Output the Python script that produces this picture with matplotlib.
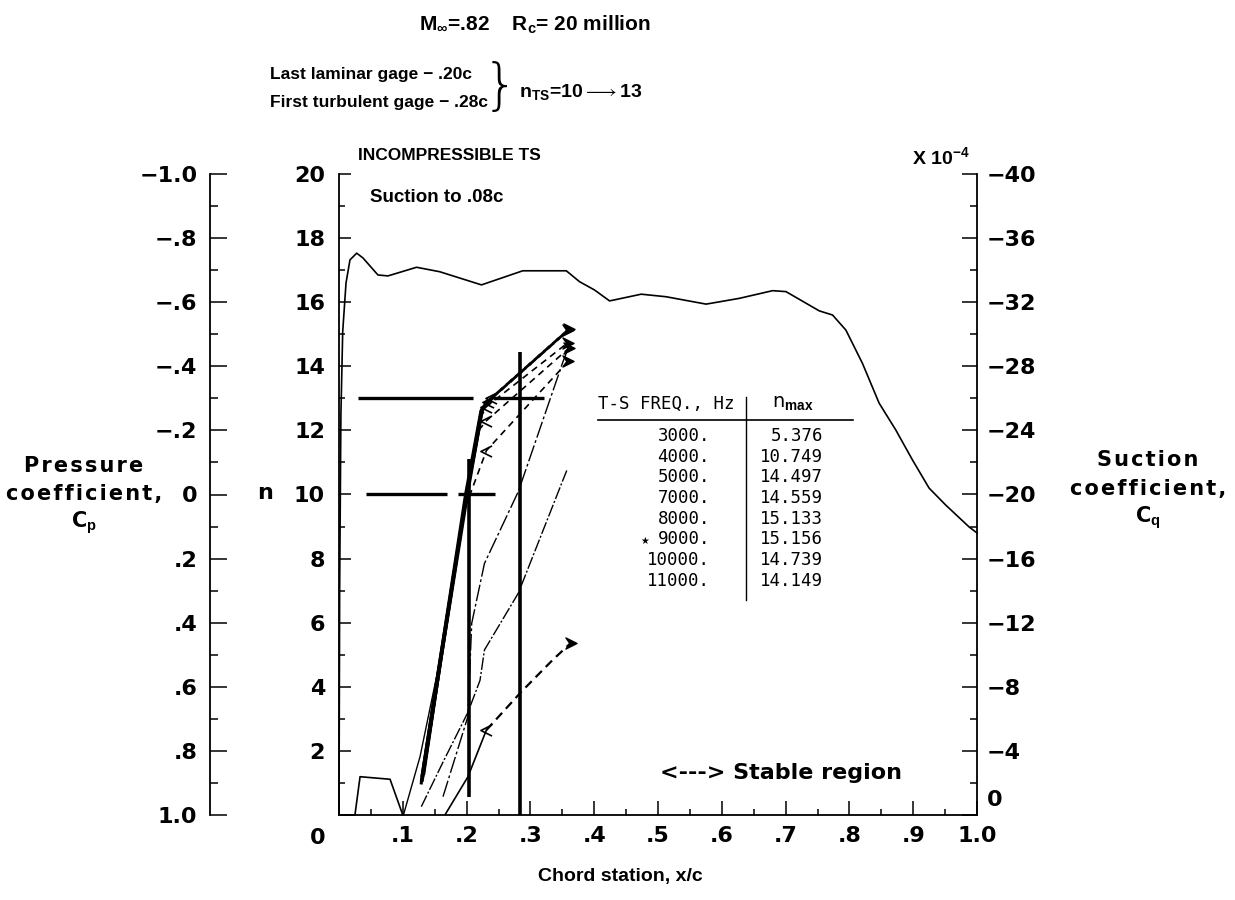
import matplotlib
matplotlib.use("Agg")
import matplotlib.pyplot as plt
from matplotlib.path import Path
from matplotlib.lines import Line2D
import numpy as np

plt.rcParams['font.family'] = ['DejaVu Sans']
plt.rcParams['mathtext.fontset'] = 'custom'
plt.rcParams['mathtext.rm'] = 'Liberation Sans:bold'
plt.rcParams['mathtext.it'] = 'Liberation Sans:bold'
plt.rcParams['mathtext.bf'] = 'Liberation Sans:bold'
plt.rcParams['mathtext.default'] = 'rm'

# ---------------- data ----------------
# pressure distribution (Cp vs x/c)
cp_x = [0.0, 0.001, 0.003, 0.0058, 0.011, 0.0172, 0.0277, 0.0376, 0.061, 0.0767,
        0.1216, 0.158, 0.2233, 0.288, 0.3563, 0.377, 0.4006, 0.4241, 0.4737, 0.5128,
        0.5754, 0.6275, 0.6797, 0.7006, 0.7527, 0.7736, 0.7945, 0.8205, 0.8466,
        0.8728, 0.8988, 0.9249, 0.951, 0.9875, 1.0]
cp_val = [1.0, 0.30, -0.25, -0.508, -0.66, -0.732, -0.753, -0.738, -0.685, -0.682,
          -0.709, -0.695, -0.654, -0.698, -0.698, -0.664, -0.638, -0.604, -0.625, -0.617,
          -0.594, -0.612, -0.636, -0.633, -0.573, -0.560, -0.513, -0.409, -0.285,
          -0.201, -0.108, -0.020, 0.033, 0.101, 0.12]

# suction distribution (Cq x 1e4)
cq_x = [0.0, 0.025, 0.033, 0.080, 0.100]
cq_val = [0.0, 0.0, -2.39, -2.23, 0.0]

# N-factor curves: amplified part (solid) and stable part (dashed)
n3000_sx = [0.166, 0.202, 0.231]
n3000_sy = [0.0, 1.19, 2.65]
n3000_dx = [0.231, 0.286, 0.335, 0.364]
n3000_dy = [2.65, 3.85, 4.84, 5.38]

n4000_x = [0.129, 0.163, 0.202, 0.221, 0.228, 0.281, 0.351, 0.357]
n4000_y = [0.26, 1.65, 3.2, 4.2, 5.15, 6.92, 10.45, 10.75]

n5000_x = [0.163, 0.202, 0.208, 0.228, 0.281, 0.351, 0.358]
n5000_y = [0.57, 3.07, 5.98, 7.85, 10.09, 14.14, 14.5]

n7000_sx = [0.133, 0.160, 0.200, 0.219]
n7000_sy = [1.3, 4.9, 10.0, 12.0]
n7000_dx = [0.219, 0.231, 0.360]
n7000_dy = [12.0, 12.3, 14.56]

n8000_sx = [0.130, 0.158, 0.199, 0.223, 0.233]
n8000_sy = [1.1, 4.7, 10.0, 12.6, 12.9]
n8000_dx = [0.233, 0.359]
n8000_dy = [12.9, 15.13]

n9000_sx = [0.131, 0.159, 0.201, 0.224, 0.239]
n9000_sy = [1.25, 4.84, 10.04, 12.64, 13.0]
n9000_dx = [0.239, 0.361]
n9000_dy = [13.0, 15.16]

n10000_sx = [0.129, 0.157, 0.199, 0.222]
n10000_sy = [1.0, 4.6, 9.9, 12.4]
n10000_dx = [0.222, 0.231, 0.359]
n10000_dy = [12.4, 12.74, 14.74]

n11000_sx = [0.101, 0.127, 0.160, 0.198]
n11000_sy = [0.0, 1.82, 5.0, 9.6]
n11000_dx = [0.198, 0.231, 0.359]
n11000_dy = [9.6, 11.37, 14.15]

# gage lines
gage_x = [0.204, 0.283]
gage_lo = [0.57, 0.0]
gage_hi = [11.1, 14.45]
hbar_n = [13.0, 13.0, 10.0, 10.0]
hbar_x0 = [0.030, 0.241, 0.043, 0.187]
hbar_x1 = [0.210, 0.322, 0.169, 0.244]

# table
freq_labels = ["3000.", "4000.", "5000.", "7000.", "8000.", "9000.", "10000.", "11000."]
nmax_labels = ["5.376", "10.749", "14.497", "14.559", "15.133", "15.156", "14.739", "14.149"]

# tick labels
x_ticks = [0.0, 0.1, 0.2, 0.3, 0.4, 0.5, 0.6, 0.7, 0.8, 0.9, 1.0]
x_ticklabels = ["", ".1", ".2", ".3", ".4", ".5", ".6", ".7", ".8", ".9", "1.0"]
n_ticks = [0, 2, 4, 6, 8, 10, 12, 14, 16, 18, 20]
n_ticklabels = ["", "2", "4", "6", "8", "10", "12", "14", "16", "18", "20"]
cp_ticks = [-1.0, -0.8, -0.6, -0.4, -0.2, 0.0, 0.2, 0.4, 0.6, 0.8, 1.0]
cp_ticklabels = ["\u22121.0", "\u2212.8", "\u2212.6", "\u2212.4", "\u2212.2", "0",
                 ".2", ".4", ".6", ".8", "1.0"]
cq_ticks = [0, -4, -8, -12, -16, -20, -24, -28, -32, -36, -40]
cq_ticklabels = ["", "\u22124", "\u22128", "\u221212", "\u221216", "\u221220",
                 "\u221224", "\u221228", "\u221232", "\u221236", "\u221240"]

# ---------------- figure ----------------
W, H = 1235, 900
fig = plt.figure(figsize=(W / 100, H / 100), dpi=100)

def fx(px):
    return px / W

def fy(py):
    return 1 - py / H

L, R, T, B = 339, 977, 174, 815
ax = fig.add_axes([fx(L), fy(B), (R - L) / W, (B - T) / H])
ax.set_xlim(0, 1)
ax.set_ylim(0, 20)
ax.patch.set_visible(False)
for s in ["top", "right"]:
    ax.spines[s].set_visible(False)
for s in ["left", "bottom"]:
    ax.spines[s].set_linewidth(1.3)

BOLD = dict(family="DejaVu Sans", weight="bold", size=16)
LAB = dict(family="DejaVu Sans", weight="bold", size=15)

ax.set_xticks(x_ticks)
ax.set_xticklabels(x_ticklabels, fontdict=BOLD)
ax.set_xticks(np.arange(0.05, 1.0, 0.1), minor=True)
ax.set_yticks(n_ticks)
ax.set_yticklabels(n_ticklabels, fontdict=BOLD)
ax.set_yticks(np.arange(1, 20, 2), minor=True)
ax.tick_params(axis="x", which="major", direction="in", length=10, width=1.1, pad=8)
ax.tick_params(axis="x", which="minor", direction="in", length=4.5, width=1.1)
ax.tick_params(axis="y", which="major", direction="in", length=8.5, width=1.1, pad=10)
ax.tick_params(axis="y", which="minor", direction="in", length=4.5, width=1.1)

# Cq axis (right)
axq = ax.twinx()
axq.set_ylim(0, -40)
for s in ["top", "left", "bottom"]:
    axq.spines[s].set_visible(False)
axq.spines["right"].set_linewidth(1.3)
axq.set_yticks(cq_ticks)
axq.set_yticklabels(cq_ticklabels, fontdict=BOLD)
axq.set_yticks(np.arange(-2, -40, -4), minor=True)
axq.tick_params(axis="y", which="major", direction="in", length=10.5, width=1.1, pad=7)
axq.tick_params(axis="y", which="minor", direction="in", length=5, width=1.1)

# Cp axis (far left)
axp = ax.twinx()
axp.set_ylim(1.0, -1.0)
for s in ["top", "right", "bottom"]:
    axp.spines[s].set_visible(False)
axp.spines["left"].set_visible(True)
axp.spines["left"].set_position(("axes", (210 - L) / (R - L)))
axp.spines["left"].set_linewidth(1.3)
axp.yaxis.tick_left()
axp.set_yticks(cp_ticks)
axp.set_yticklabels(cp_ticklabels, fontdict=BOLD)
axp.set_yticks(np.arange(-0.9, 1.0, 0.2), minor=True)
axp.tick_params(axis="y", which="major", direction="in", length=12, width=1.1, pad=9)
axp.tick_params(axis="y", which="minor", direction="in", length=5.5, width=1.1)

# ---------------- curves ----------------
axp.plot(cp_x, cp_val, color="black", lw=1.2, clip_on=False)
axq.plot(cq_x, cq_val, color="black", lw=1.2, clip_on=False)

chev = Path([(1, 1), (-1, 0), (1, -1)], [Path.MOVETO, Path.LINETO, Path.LINETO])
head = Path([(-1, 1), (1, 0), (-1, -1), (-0.3, 0), (-1, 1)],
            [Path.MOVETO, Path.LINETO, Path.LINETO, Path.LINETO, Path.CLOSEPOLY])

def stable(x, y, lw=1.3, dash=(4, 2.5), mk=0):
    ax.plot(x, y, color="black", lw=lw, dashes=dash)
    ax.plot([x[mk]], [y[mk]], marker=chev, ms=8, mfc="none", mec="black", mew=1.2)
    ax.plot([x[-1]], [y[-1]], marker=head, ms=8, color="black")

# 3000 Hz
ax.plot(n3000_sx, n3000_sy, color="black", lw=1.2)
stable(n3000_dx, n3000_dy, lw=1.6, dash=(4, 2.5))
# 4000 Hz
ax.plot(n4000_x, n4000_y, color="black", lw=1.0, dashes=(9, 1.5, 1.5, 1.5))
# 5000 Hz
ax.plot(n5000_x, n5000_y, color="black", lw=1.0, dashes=(12, 2, 2, 2))
# 7000 Hz
ax.plot(n7000_sx, n7000_sy, color="black", lw=2.2)
stable(n7000_dx, n7000_dy, lw=1.2, dash=(4, 3), mk=1)
# 8000 Hz
ax.plot(n8000_sx, n8000_sy, color="black", lw=2.8)
stable(n8000_dx, n8000_dy, lw=2.0, dash=(3, 1.5))
# 9000 Hz
ax.plot(n9000_sx, n9000_sy, color="black", lw=2.8)
stable(n9000_dx, n9000_dy, lw=2.0, dash=(3, 1.5))
# 10000 Hz
ax.plot(n10000_sx, n10000_sy, color="black", lw=2.2)
stable(n10000_dx, n10000_dy, lw=1.2, dash=(4, 3), mk=1)
# 11000 Hz
ax.plot(n11000_sx, n11000_sy, color="black", lw=1.0)
stable(n11000_dx, n11000_dy, lw=1.2, dash=(4, 3), mk=1)

# gage lines and n bars
for gx, lo, hi in zip(gage_x, gage_lo, gage_hi):
    ax.plot([gx, gx], [lo, hi], color="black", lw=2.6, solid_capstyle="butt")
for n_, x0, x1 in zip(hbar_n, hbar_x0, hbar_x1):
    ax.plot([x0, x1], [n_, n_], color="black", lw=2.4, solid_capstyle="butt")

# ---------------- texts ----------------
def ft(px, py, s, **kw):
    fig.text(fx(px), fy(py), s, **kw)

def spaced(s):
    return "\u200a".join(s)

LIB = dict(family="Liberation Sans", weight="bold")
ft(535, 25, r"M$_{\infty}$=.82    R$_{c}$= 20 million", ha="center", va="center", size=15, **LIB)
ft(270, 75, "Last laminar gage \u2212 .20c", ha="left", va="center", size=12.5, **LIB)
ft(270, 103, "First turbulent gage \u2212 .28c", ha="left", va="center", size=12.5, **LIB)
ft(500, 88, "}", ha="center", va="center", size=40, family="DejaVu Sans", weight="ultralight")
ft(519, 92, r"n$_{TS}$=10$\longrightarrow$13", ha="left", va="center", size=14, **LIB)
ft(912, 157, r"X 10$^{-4}$", ha="left", va="center", size=14, **LIB)
ft(358, 155, "INCOMPRESSIBLE TS", ha="left", va="center", size=12.5, **LIB)
ft(370, 197, "Suction to .08c", ha="left", va="center", size=13.5, **LIB)
ft(660, 773, "<---> Stable region", ha="left", va="center", size=16,
   family="DejaVu Sans", weight="bold")

ft(318, 838, "0", ha="center", va="center", **BOLD)
ft(987, 800, "0", ha="left", va="center", **BOLD)
ft(265, 493, "n", ha="center", va="center", **BOLD)

for s, y in zip([spaced("Pressure"), spaced("coefficient,"), r"C$_p$"], [466, 494, 523]):
    ft(84, y, s, ha="center", va="center", **LAB)
for s, y in zip([spaced("Suction"), spaced("coefficient,"), r"C$_q$"], [460, 489, 518]):
    ft(1148, y, s, ha="center", va="center", **LAB)
ft(620, 876, "Chord station, x/c", ha="center", va="center", size=14, **LIB)

# table
TAB = dict(family="DejaVu Sans Mono", size=12.5)
ft(598, 404, "T-S FREQ., Hz", ha="left", va="center", **TAB)
ft(772, 402, r"n$_{max}$", ha="left", va="center", size=14, family="DejaVu Sans")
fig.add_artist(Line2D([fx(598), fx(853)], [fy(420), fy(420)], color="black", lw=1.2))
fig.add_artist(Line2D([fx(746), fx(746)], [fy(397), fy(600)], color="black", lw=1.0))
for i, (f_, n_) in enumerate(zip(freq_labels, nmax_labels)):
    y = 436 + 20.7 * i
    ft(710, y, f_, ha="right", va="center", **TAB)
    ft(823, y, n_, ha="right", va="center", **TAB)
ft(645, 541, "\u2605", ha="center", va="center", size=7, family="DejaVu Sans")

fig.savefig("out.png", dpi=100)
